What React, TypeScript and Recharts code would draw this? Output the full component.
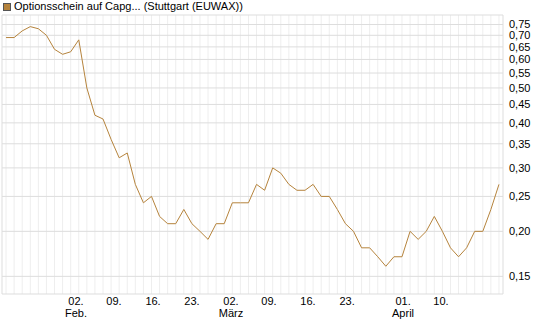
import React from 'react';
import { LineChart, Line, XAxis, YAxis, CartesianGrid } from 'recharts';

const seriesName = 'Optionsschein auf Capg... (Stuttgart (EUWAX))';

// Kurse, ein Wert je Handelstag (von links nach rechts)
const prices = [
  0.69, 0.69, 0.72, 0.74, 0.73, 0.7, 0.64, 0.62, 0.63, 0.68,
  0.5, 0.42, 0.41, 0.36, 0.32, 0.33, 0.27, 0.24, 0.25, 0.22,
  0.21, 0.21, 0.23, 0.21, 0.2, 0.19, 0.21, 0.21, 0.24, 0.24,
  0.24, 0.27, 0.26, 0.3, 0.29, 0.27, 0.26, 0.26, 0.27, 0.25,
  0.25, 0.23, 0.21, 0.2, 0.18, 0.18, 0.17, 0.16, 0.17, 0.17,
  0.2, 0.19, 0.2, 0.22, 0.2, 0.18, 0.17, 0.18, 0.2, 0.2,
  0.23, 0.27,
];

const yTicks = [0.15, 0.2, 0.25, 0.3, 0.35, 0.4, 0.45, 0.5, 0.55, 0.6, 0.65, 0.7, 0.75];

// Lage der Datums-Ticks auf der Achse (in Handelstagen)
const tickPos = [8.66, 13.36, 18.19, 23.01, 27.84, 32.54, 37.37, 42.2, 49.13, 53.83];
const tickDay = ['02.', '09.', '16.', '23.', '02.', '09.', '16.', '23.', '01.', '10.'];
const tickMonth = ['Feb.', '', '', '', 'März', '', '', '', 'April', ''];

const data = prices.map((v, i) => ({ t: i, v }));
const dayIdx = prices.map((_, i) => i);

const lineColor = '#b5833c';
const font = '"Liberation Sans", Arial, sans-serif';

const DateTick = ({ x, y, payload }: any) => {
  const i = tickPos.indexOf(payload.value);
  if (i < 0) return null;
  return (
    <text x={x} y={y} textAnchor="middle" fontSize={11} fontFamily={font} fill="#000">
      <tspan x={x} dy={11}>{tickDay[i]}</tspan>
      {tickMonth[i] && <tspan x={x} dy={12}>{tickMonth[i]}</tspan>}
    </text>
  );
};

export default function App() {
  return (
    <div
      style={{
        position: 'absolute', left: 0, top: 0, width: 545, height: 327,
        background: '#fff', fontFamily: font,
      }}
    >
      <div
        style={{
          position: 'absolute', left: 3, top: 0, fontSize: 11, lineHeight: '13px',
          color: '#000', display: 'flex', alignItems: 'center', whiteSpace: 'nowrap',
        }}
      >
        <span
          style={{
            display: 'inline-block', width: 6, height: 6, background: lineColor,
            border: '1px solid #555', marginRight: 3,
          }}
        />
        {seriesName}
      </div>
      <LineChart width={545} height={327} data={data} margin={{ top: 15, right: 0, bottom: 0, left: 2 }}>
        {/* Tagesraster */}
        <CartesianGrid horizontal={false} verticalValues={dayIdx} stroke="#eeeeee" />
        {/* Kursraster + Rahmen oben/links */}
        <CartesianGrid vertical={false} horizontalValues={[...yTicks, 0.797]} stroke="#dddddd" />
        <CartesianGrid horizontal={false} verticalValues={[-0.5]} stroke="#dddddd" />
        <XAxis
          type="number"
          dataKey="t"
          domain={[-0.5, prices.length - 0.5]}
          ticks={tickPos}
          interval={0}
          tick={<DateTick />}
          tickLine={false}
          tickSize={0}
          tickMargin={0}
          height={33}
          axisLine={{ stroke: '#dddddd' }}
        />
        <YAxis
          orientation="right"
          scale="log"
          domain={[0.134, 0.797]}
          allowDataOverflow
          ticks={yTicks}
          interval={0}
          tickFormatter={(v: number) => v.toFixed(2).replace('.', ',')}
          tick={{ fontSize: 11, fill: '#000', fontFamily: font }}
          tickLine={false}
          tickSize={0}
          tickMargin={6}
          width={42}
          axisLine={{ stroke: '#dddddd' }}
        />
        <Line
          type="linear"
          dataKey="v"
          stroke={lineColor}
          strokeWidth={1}
          dot={false}
          isAnimationActive={false}
        />
      </LineChart>
    </div>
  );
}
